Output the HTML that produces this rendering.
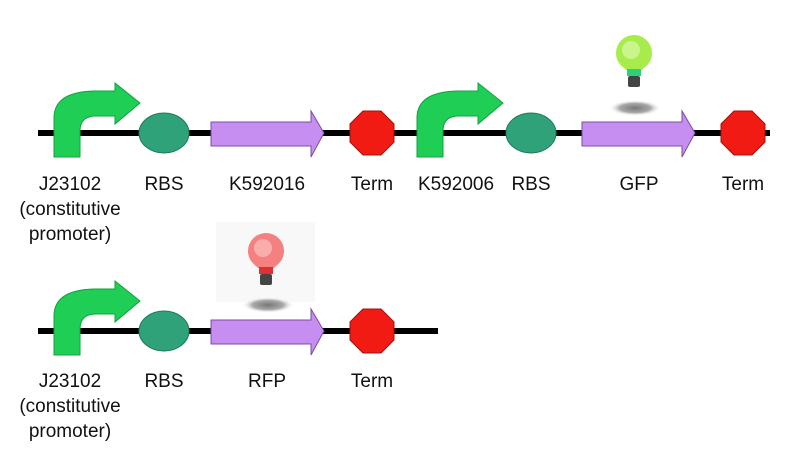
<!DOCTYPE html>
<html><head><style>
body{margin:0;background:#fff;}
svg text{font-family:"Liberation Sans",sans-serif;font-size:19px;fill:#111;text-anchor:middle;}
</style></head><body>
<svg width="800" height="469" viewBox="0 0 800 469" xmlns="http://www.w3.org/2000/svg">
<defs>
<g id="prom"><path d="M0,24 L0,-15 Q0,-41 40,-42 L61,-42 L61,-50 L86,-30 L61,-9 L61,-17 L42,-17 Q26,-17 26,-2 L26,24 Z" fill="#1fcf55" stroke="#11a040" stroke-width="1"/></g>
<g id="rbs"><ellipse cx="0" cy="0" rx="25" ry="20" fill="#2fa27a" stroke="#1f7a5a" stroke-width="1"/></g>
<g id="cds"><path d="M0,-11 L100,-11 L100,-22 L113,0 L100,24 L100,13 L0,13 Z" fill="#c58ef0" stroke="#7a4fa0" stroke-width="1"/></g>
<g id="term"><polygon points="-9,-22 9,-22 22,-9 22,9 9,22 -9,22 -22,9 -22,-9" fill="#f21b14" stroke="#a01010" stroke-width="1"/></g>
<radialGradient id="sh"><stop offset="0" stop-color="#777"/><stop offset="0.6" stop-color="#aaa"/><stop offset="1" stop-color="#fff" stop-opacity="0"/></radialGradient>
</defs>
<line x1="38" y1="133" x2="770" y2="133" stroke="#000" stroke-width="6"/>
<use href="#prom" x="54" y="133"/>
<use href="#rbs" x="164" y="133"/>
<use href="#cds" x="211" y="133"/>
<use href="#term" x="372" y="133"/>
<use href="#prom" x="417" y="133"/>
<use href="#rbs" x="531" y="133"/>
<use href="#cds" x="582" y="133"/>
<use href="#term" x="743" y="133"/>
<ellipse cx="635" cy="108" rx="26" ry="8" fill="url(#sh)"/>
<path d="M616,53 A18,18 0 1 1 652,53 Q652,62 644,68 L642,70 L626,70 L624,68 Q616,62 616,53 Z" fill="#a8ec4c"/>
<circle cx="631" cy="50" r="9" fill="#d8f8a8" opacity="0.7"/>
<rect x="627" y="69" width="14" height="7" fill="#2bd07a"/>
<rect x="628" y="76" width="12" height="11" rx="2" fill="#444"/>
<text x="70" y="190">J23102</text>
<text x="70" y="215">(constitutive</text>
<text x="70" y="240">promoter)</text>
<text x="164" y="190">RBS</text>
<text x="267" y="190">K592016</text>
<text x="372" y="190">Term</text>
<text x="456" y="190">K592006</text>
<text x="531" y="190">RBS</text>
<text x="639" y="190">GFP</text>
<text x="743" y="190">Term</text>
<rect x="216" y="222" width="99" height="80" fill="#f8f8f8"/>
<line x1="38" y1="331" x2="438" y2="331" stroke="#000" stroke-width="6"/>
<use href="#prom" x="54" y="331"/>
<use href="#rbs" x="164" y="331"/>
<use href="#cds" x="211" y="331"/>
<use href="#term" x="372" y="331"/>
<ellipse cx="268" cy="305" rx="26" ry="8" fill="url(#sh)"/>
<path d="M248,251 A18,18 0 1 1 284,251 Q284,260 276,266 L274,268 L258,268 L256,266 Q248,260 248,251 Z" fill="#f58080"/>
<circle cx="263" cy="248" r="9" fill="#fbc0c0" opacity="0.7"/>
<rect x="259" y="267" width="14" height="7" fill="#e03030"/>
<rect x="260" y="274" width="12" height="11" rx="2" fill="#444"/>
<text x="70" y="387">J23102</text>
<text x="70" y="412">(constitutive</text>
<text x="70" y="437">promoter)</text>
<text x="164" y="387">RBS</text>
<text x="267" y="387">RFP</text>
<text x="372" y="387">Term</text>
</svg>
</body></html>
